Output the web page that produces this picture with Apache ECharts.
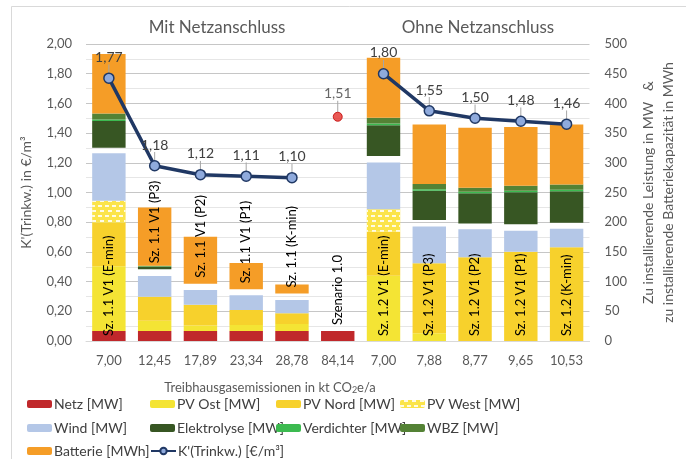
<!DOCTYPE html>
<html><head><meta charset="utf-8">
<script src="https://cdn.jsdelivr.net/npm/echarts@6/dist/echarts.min.js"></script>
<style>html,body{margin:0;padding:0;background:#fff}#c{width:686px;height:459px}</style>
</head><body><div id="c"></div>
<script>
const categories = ['7,00','12,45','17,89','23,34','28,78','84,14','7,00','7,88','8,77','9,65','10,53'];
const barLabels = ['Sz. 1.1 V1 (E-min)','Sz. 1.1 V1 (P3)','Sz. 1.1 V1 (P2)','Sz. 1.1 V1 (P1)','Sz. 1.1 (K-min)','Szenario 1.0','Sz. 1.2 V1 (E-min)','Sz. 1.2 V1 (P3)','Sz. 1.2 V1 (P2)','Sz. 1.2 V1 (P1)','Sz. 1.2 (K-min)'];
const netz        = [17, 17, 17, 17, 17, 17, 0, 0, 0, 0, 0];
const pvOst       = [109, 17, 9, 10, 11.6, 0, 110, 13, 0, 0, 0];
const pvNord      = [73, 40.6, 35, 25, 18, 0, 74, 118, 141, 150.4, 157.7];
const pvWest      = [37, 0, 0, 0, 0, 0, 37.7, 0, 0, 0, 0];
const wind        = [80, 35, 25, 25, 22.4, 0, 79, 61.6, 47, 35.3, 31.3];
const luecke      = [9.5, 11, 10.5, 10, 11, 0, 10.6, 11.3, 10, 10.7, 10];
const elektrolyse = [45, 4, 0, 0, 0, 0, 52, 49, 50.6, 54, 53];
const verdichter  = [2.5, 1, 0, 0, 0, 0, 3, 2.5, 2.5, 2.5, 2.5];
const wbz         = [10, 1, 0, 0, 0, 0, 9.5, 9, 7, 8.5, 8.8];
const batterie    = [100, 98, 79, 44.5, 15, 0, 101, 100, 101, 99, 101];
const kTrinkw     = [1.77, 1.18, 1.12, 1.11, 1.10, null, 1.80, 1.55, 1.50, 1.48, 1.46];
const szenario10  = [null, null, null, null, null, 1.51, null, null, null, null, null];
const leftTicks = {min: 0, max: 2, interval: 0.2};
const rightTicks = {min: 0, max: 500, interval: 50};
const legendRows = [
  ['Netz [MW]', 'PV Ost [MW]', 'PV Nord [MW]', 'PV West [MW]'],
  ['Wind [MW]', 'Elektrolyse [MW]', 'Verdichter [MW]', 'WBZ [MW]'],
  ['Batterie [MWh]', "K'(Trinkw.) [€/m³]"]
];

const FONT = 'Lato';
const GREY = '#595959';
const comma = v => (typeof v === 'number' ? v.toFixed(2).replace('.', ',') : v);

const labelBase = {show: true, rotate: 90, align: 'left', verticalAlign: 'middle', fontSize: 13, fontFamily: FONT, color: '#000'};
const insideMode = categories.map((c, i) => pvOst[i] + pvNord[i] + pvWest[i] > 100);

function bar(name, data, color, extra) {
  return Object.assign({
    name, type: 'bar', stack: 'a', yAxisIndex: 1, barWidth: '73%',
    data: data.slice(), itemStyle: {color}, emphasis: {disabled: true}
  }, extra || {});
}

const netzData = netz.map((v, i) => insideMode[i]
  ? {value: v, label: Object.assign({}, labelBase, {position: 'insideBottom', distance: 5, formatter: barLabels[i]})}
  : v);
const lueckeData = luecke.map((v, i) => !insideMode[i]
  ? {value: v, label: Object.assign({}, labelBase, {position: 'top', distance: 6, formatter: barLabels[i]})}
  : v);

const series = [
  bar('Netz [MW]', netz, '#c0282b', {data: netzData}),
  bar('PV Ost [MW]', pvOst, '#f4e434'),
  bar('PV Nord [MW]', pvNord, '#f7d12c'),
  bar('PV West [MW]', pvWest, '#fbe44a', {itemStyle: {color: '#fbe44a', decal: {symbol: 'rect', symbolSize: 1, color: 'rgba(255,255,255,0.85)', dashArrayX: [[4, 3], [0, 3.5, 4, 0]], dashArrayY: [1.5, 3], rotation: 0}}}),
  bar('Wind [MW]', wind, '#b4c7e7'),
  bar('gap', luecke, 'rgba(0,0,0,0)', {data: lueckeData}),
  bar('Elektrolyse [MW]', elektrolyse, '#375623'),
  bar('Verdichter [MW]', verdichter, '#3cba50'),
  bar('WBZ [MW]', wbz, '#548235'),
  bar('Batterie [MWh]', batterie, '#f59d27'),
  {
    name: "K'(Trinkw.) [€/m³]", type: 'line', yAxisIndex: 0, data: kTrinkw, z: 10,
    connectNulls: false, symbol: 'circle', symbolSize: 10,
    lineStyle: {color: '#203864', width: 3.5},
    itemStyle: {color: '#8faadc', borderColor: '#203864', borderWidth: 1.5},
    label: {show: true, position: 'top', distance: 2, fontSize: 14, fontFamily: FONT, color: '#404040', formatter: p => comma(p.value)},
    labelLayout: {dy: -6},
    labelLine: {show: true, lineStyle: {color: '#a6a6a6', width: 1}},
    emphasis: {disabled: true}
  },
  {
    name: 'Szenario 1.0', type: 'scatter', yAxisIndex: 0, data: szenario10, z: 11,
    symbolSize: 9, itemStyle: {color: '#e3302a', borderColor: '#c00000', borderWidth: 1},
    label: {show: true, position: 'top', distance: 2, fontSize: 14, fontFamily: FONT, color: '#404040', formatter: p => comma(p.value)},
    labelLayout: {dy: -9},
    labelLine: {show: true, lineStyle: {color: '#a6a6a6', width: 1}},
    emphasis: {disabled: true}
  }
];

const legendTops = [397, 421, 444];
const legendLefts = [27, 150, 276, 400];
const legends = [];
legendRows.forEach((row, r) => row.forEach((name, c) => legends.push({
  orient: 'horizontal', left: legendLefts[c], top: legendTops[r], padding: 0,
  itemWidth: 25, itemHeight: 8, itemGap: 0,
  selectedMode: false, data: [name],
  textStyle: {fontSize: 14, fontFamily: FONT, color: '#404040', padding: [0, 0, 0, -3]}
})));

const option = {
  animation: false,
  backgroundColor: '#fff',
  textStyle: {fontFamily: FONT},
  title: [
    {text: 'Mit Netzanschluss', left: 212, top: 14, textAlign: 'center', textStyle: {fontSize: 17, fontWeight: 'normal', color: GREY, fontFamily: FONT}},
    {text: 'Ohne Netzanschluss', left: 473, top: 14, textAlign: 'center', textStyle: {fontSize: 17, fontWeight: 'normal', color: GREY, fontFamily: FONT}},
    {text: 'Treibhausgasemissionen in kt CO{s|2}e/a', left: 265, top: 375, textAlign: 'center',
     textStyle: {fontSize: 13, fontWeight: 'normal', color: GREY, fontFamily: FONT, rich: {s: {fontSize: 9, verticalAlign: 'bottom', padding: [6, 0, 0, 0], color: GREY, fontFamily: FONT}}}}
  ],
  legend: legends,
  grid: {left: 86, right: 88, top: 44, bottom: 118, containLabel: false},
  xAxis: {
    type: 'category', data: categories,
    axisTick: {show: false},
    axisLine: {lineStyle: {color: '#d9d9d9', width: 1}},
    axisLabel: {fontSize: 13, fontFamily: FONT, color: GREY, margin: 13, interval: 0}
  },
  yAxis: [
    {
      type: 'value', min: leftTicks.min, max: leftTicks.max, interval: leftTicks.interval,
      name: "K'(Trinkw.) in €/m³", nameLocation: 'middle', nameGap: 53, nameRotate: 90,
      nameTextStyle: {fontSize: 14, fontFamily: FONT, color: GREY},
      axisLabel: {fontSize: 13, fontFamily: FONT, color: GREY, margin: 14, formatter: v => v.toFixed(2).replace('.', ',')},
      axisLine: {show: false}, axisTick: {show: false},
      splitLine: {lineStyle: {color: '#c6c6c6', width: 1}},
      minorTick: {show: false, splitNumber: 2},
      minorSplitLine: {show: true, lineStyle: {color: '#e6e6e6', width: 1}}
    },
    {
      type: 'value', min: rightTicks.min, max: rightTicks.max, interval: rightTicks.interval,
      position: 'right',
      name: 'Zu installierende Leistung in MW   &\nzu installierende Batteriekapazität in MWh',
      nameLocation: 'middle', nameGap: 47, nameRotate: 90,
      nameTextStyle: {fontSize: 14, fontFamily: FONT, color: GREY, lineHeight: 20},
      axisLabel: {fontSize: 13, fontFamily: FONT, color: GREY, margin: 15},
      axisLine: {show: false}, axisTick: {show: false},
      splitLine: {show: false}
    }
  ],
  graphic: [
    {type: 'rect', shape: {x: 11.5, y: 6.5, width: 700, height: 470}, style: {fill: 'none', stroke: '#d9d9d9', lineWidth: 1}, silent: true, z: -10}
  ],
  series
};

const chart = echarts.init(document.getElementById('c'), null, {renderer: 'canvas'});
chart.setOption(option);
</script>
</body></html>
